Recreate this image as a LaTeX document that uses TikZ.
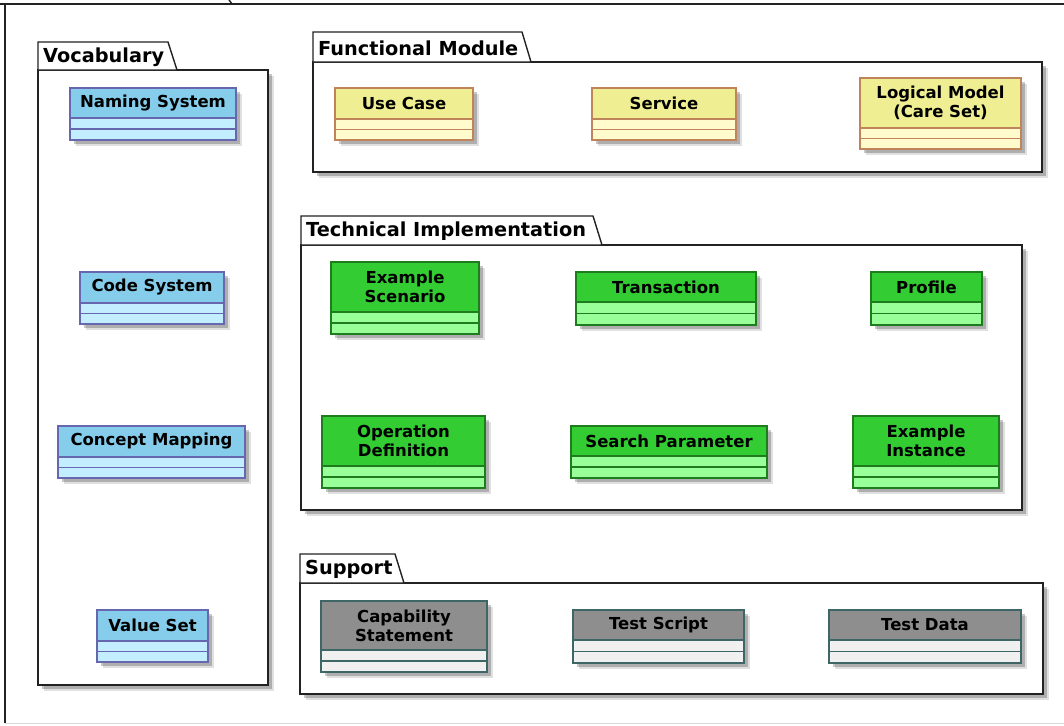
\documentclass[tikz,border=0pt]{standalone}
\usepackage{fontspec}
\setmainfont{DejaVu Sans}
\usetikzlibrary{positioning}
\definecolor{vhead}{HTML}{86CDEB}
\definecolor{vbody}{HTML}{C2EEFF}
\definecolor{vline}{HTML}{6767B0}
\definecolor{fhead}{HTML}{F0EE92}
\definecolor{fbody}{HTML}{FFFBCC}
\definecolor{fline}{HTML}{C0845A}
\definecolor{thead}{HTML}{33CC33}
\definecolor{tbody}{HTML}{99FF99}
\definecolor{tline}{HTML}{1E7B1E}
\definecolor{shead}{HTML}{8E8E8E}
\definecolor{sbody}{HTML}{F0F0F0}
\definecolor{sline}{HTML}{3E6666}
\definecolor{pkline}{HTML}{222222}
\tikzset{
  shadowc/.style={fill=black, opacity=0.22},
  shadowd/.style={fill=black, opacity=0.12},
  pkg/.style={draw=pkline, line width=1.4pt, fill=white},
  pkgtitle/.style={anchor=west, inner sep=0pt, font=\bfseries\fontsize{19.3}{22}\selectfont},
  vhd/.style={draw=vline, fill=vhead},
  vbd/.style={draw=vline, fill=vbody},
  fhd/.style={draw=fline, fill=fhead},
  fbd/.style={draw=fline, fill=fbody},
  thd/.style={draw=tline, fill=thead},
  tbd/.style={draw=tline, fill=tbody},
  shd/.style={draw=sline, fill=shead},
  sbd/.style={draw=sline, fill=sbody},
  clsbase/.style={line width=1.5pt, inner sep=0pt, outer sep=0pt, align=center,
     font=\bfseries\fontsize{16.5}{19}\selectfont}
}
% #1 name, #2 style prefix, #3 x1, #4 y1, #5 x2, #6 y2, #7 header bottom, #8 text
\newcommand{\umlcls}[8]{%
  \fill[shadowd] (#3+6,#4+6) rectangle (#5+6,#6+6);
  \fill[shadowc] (#3+4,#4+4) rectangle (#5+4,#6+4);
  \draw[#2bd, line width=1.5pt] (#3,#7) rectangle (#5,#6);
  \draw[#2bd, line width=1.5pt] (#3,{(#7+#6)/2}) -- (#5,{(#7+#6)/2});
  \node[#2hd, clsbase, anchor=north west, minimum width=#5pt-#3pt, minimum height=#7pt-#4pt] (#1) at (#3,#4) {#8};
}
% #1 name, #2 x1, #3 tab top, #4 tab right, #5 body top, #6 x2, #7 y2, #8 title
\newcommand{\umlpkg}[8]{%
  \fill[shadowd] (#2+6,#5+6) rectangle (#6+6,#7+6);
  \fill[shadowc] (#2+4,#5+4) rectangle (#6+4,#7+4);
  \draw[pkg] (#2,#5) rectangle (#6,#7);
  \draw[pkg] (#2,#5) -- (#2,#3) -- (#4,#3) -- (#4+9,#5) -- cycle;
  \node[pkgtitle] (#1) at (#2+5,{(#3+#5)/2+1}) {#8};
}
\begin{document}
\begin{tikzpicture}[x=1pt, y=-1pt]
\useasboundingbox (0,0) rectangle (1064,725);
\fill[white] (0,0) rectangle (1064,725);
% outer frame (cropped)
\draw[pkline, line width=1.4pt] (0,4) -- (1064,4);
\draw[pkline, line width=1.4pt] (229,0) -- (232,4);
\draw[pkline, line width=1.4pt] (5,4) -- (5,723);
\draw[black!15, line width=1pt] (5,723) -- (1064,723);

% Vocabulary
\umlpkg{vocab}{38}{42}{168}{70}{268}{685}{Vocabulary}
\umlcls{naming}{v}{70}{88}{236}{140}{118}{Naming System}
\umlcls{codesys}{v}{80}{272}{224}{324}{303}{Code System}
\umlcls{conceptmap}{v}{58}{426}{245}{478}{457}{Concept Mapping}
\umlcls{valueset}{v}{97}{610}{208}{662}{641}{Value Set}

% Functional Module
\umlpkg{func}{313}{32}{522}{62}{1042}{172}{Functional Module}
\umlcls{usecase}{f}{335}{88}{473}{140}{119}{Use Case}
\umlcls{service}{f}{592}{88}{736}{140}{119}{Service}
\umlcls{logical}{f}{860}{78}{1021}{149}{128}{Logical Model\\(Care Set)}

% Technical Implementation
\umlpkg{tech}{301}{216}{593}{245}{1022}{510}{Technical Implementation}
\umlcls{exscen}{t}{331}{262}{479}{334}{312}{Example\\Scenario}
\umlcls{transaction}{t}{576}{272}{756}{325}{302}{Transaction}
\umlcls{profile}{t}{871}{272}{982}{325}{302}{Profile}
\umlcls{opdef}{t}{322}{416}{485}{488}{466}{Operation\\Definition}
\umlcls{searchparam}{t}{571}{426}{767}{478}{456}{Search Parameter}
\umlcls{exinst}{t}{853}{416}{999}{488}{466}{Example\\Instance}

% Support
\umlpkg{support}{300}{554}{395}{583}{1043}{694}{Support}
\umlcls{capstmt}{s}{321}{601}{487}{672}{650}{Capability\\Statement}
\umlcls{testscript}{s}{573}{610}{744}{663}{640}{Test Script}
\umlcls{testdata}{s}{829}{610}{1021}{663}{640}{Test Data}
\end{tikzpicture}
\end{document}
